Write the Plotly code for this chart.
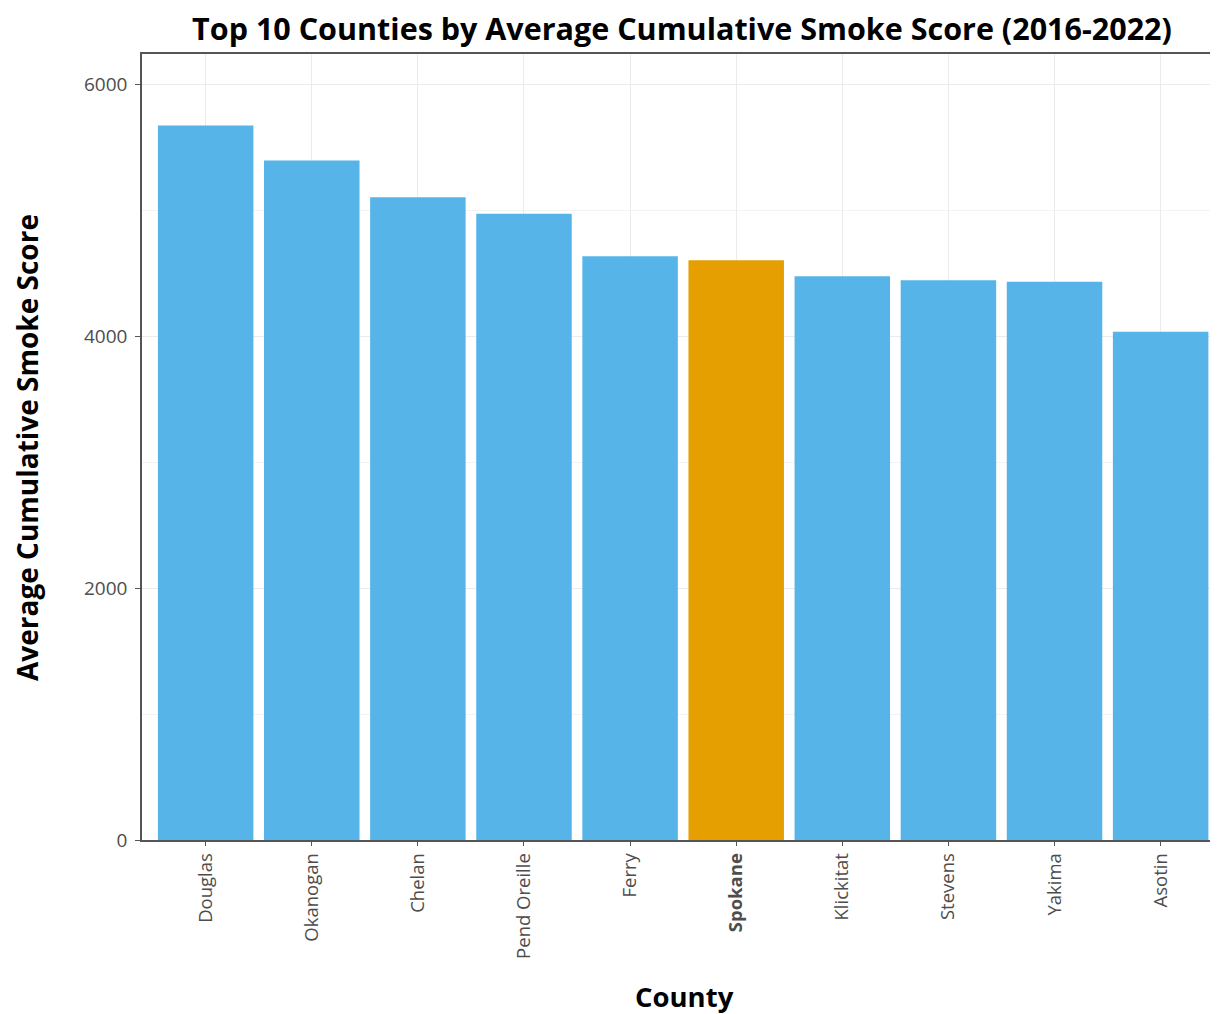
import plotly.graph_objects as go

counties = ["Douglas", "Okanogan", "Chelan", "Pend Oreille", "Ferry",
            "Spokane", "Klickitat", "Stevens", "Yakima", "Asotin"]
scores = [5672, 5394, 5103, 4971, 4635, 4603, 4476, 4444, 4431, 4034]
highlight = "Spokane"
tick_labels = [f"<b>{c}</b>" if c == highlight else c for c in counties]

BLUE = "#56B4E9"
ORANGE = "#E69F00"
colors = [ORANGE if c == highlight else BLUE for c in counties]

W, H = 1211, 1007
L, T, B = 134, 46, 175

fig = go.Figure(go.Bar(
    x=counties, y=scores, marker_color=colors, marker_line_width=0,
    width=0.9,
))

FONT = "Open Sans, sans-serif"

fig.update_layout(
    width=W, height=H,
    margin=dict(l=L, r=0, t=T, b=B),
    plot_bgcolor="white", paper_bgcolor="white",
    showlegend=False,
    font=dict(family=FONT, color="#4d4d4d"),
    title=dict(
        text="<b>Top 10 Counties by Average Cumulative Smoke Score (2016-2022)</b>",
        x=674 / W, xanchor="center",
        y=1 - 21 / H, yanchor="middle",
        font=dict(size=30.5, color="black", family=FONT),
    ),
    annotations=[
        dict(text="<b>Average Cumulative Smoke Score</b>", textangle=-90,
             xref="paper", yref="paper",
             x=(19 - L) / (W - L), y=1 - (440 - T) / (H - T - B),
             xanchor="center", yanchor="middle", showarrow=False,
             font=dict(size=28, color="black", family=FONT)),
        dict(text="<b>County</b>",
             xref="paper", yref="paper",
             x=(676 - L) / (W - L), y=-(988 - (H - B)) / (H - T - B),
             xanchor="center", yanchor="middle", showarrow=False,
             font=dict(size=27.5, color="black", family=FONT)),
    ],
    bargap=0.1,
)

fig.update_xaxes(
    categoryorder="array", categoryarray=counties,
    tickvals=counties, ticktext=tick_labels,
    range=[-0.6, 9.55],
    tickangle=-90,
    tickfont=dict(size=18.5, color="#4d4d4d"),
    ticks="outside", ticklen=4, tickcolor="#555555",
    showline=True, linecolor="#555555", linewidth=1.5, mirror=True,
    showgrid=True, gridcolor="#ebebeb", gridwidth=1,
    zeroline=False,
)

fig.update_yaxes(
    range=[0, 6240],
    tickvals=[0, 2000, 4000, 6000],
    tickfont=dict(size=19, color="#4d4d4d"),
    ticks="outside", ticklen=5, tickcolor="#555555",
    ticklabelstandoff=4,
    showline=True, linecolor="#555555", linewidth=1.5, mirror=False,
    showgrid=True, gridcolor="#ebebeb", gridwidth=1.3,
    minor=dict(tickvals=[1000, 3000, 5000], showgrid=True, gridcolor="#f3f3f3", gridwidth=0.8, ticks=""),
    zeroline=False,
)

fig.write_html("out.html")
